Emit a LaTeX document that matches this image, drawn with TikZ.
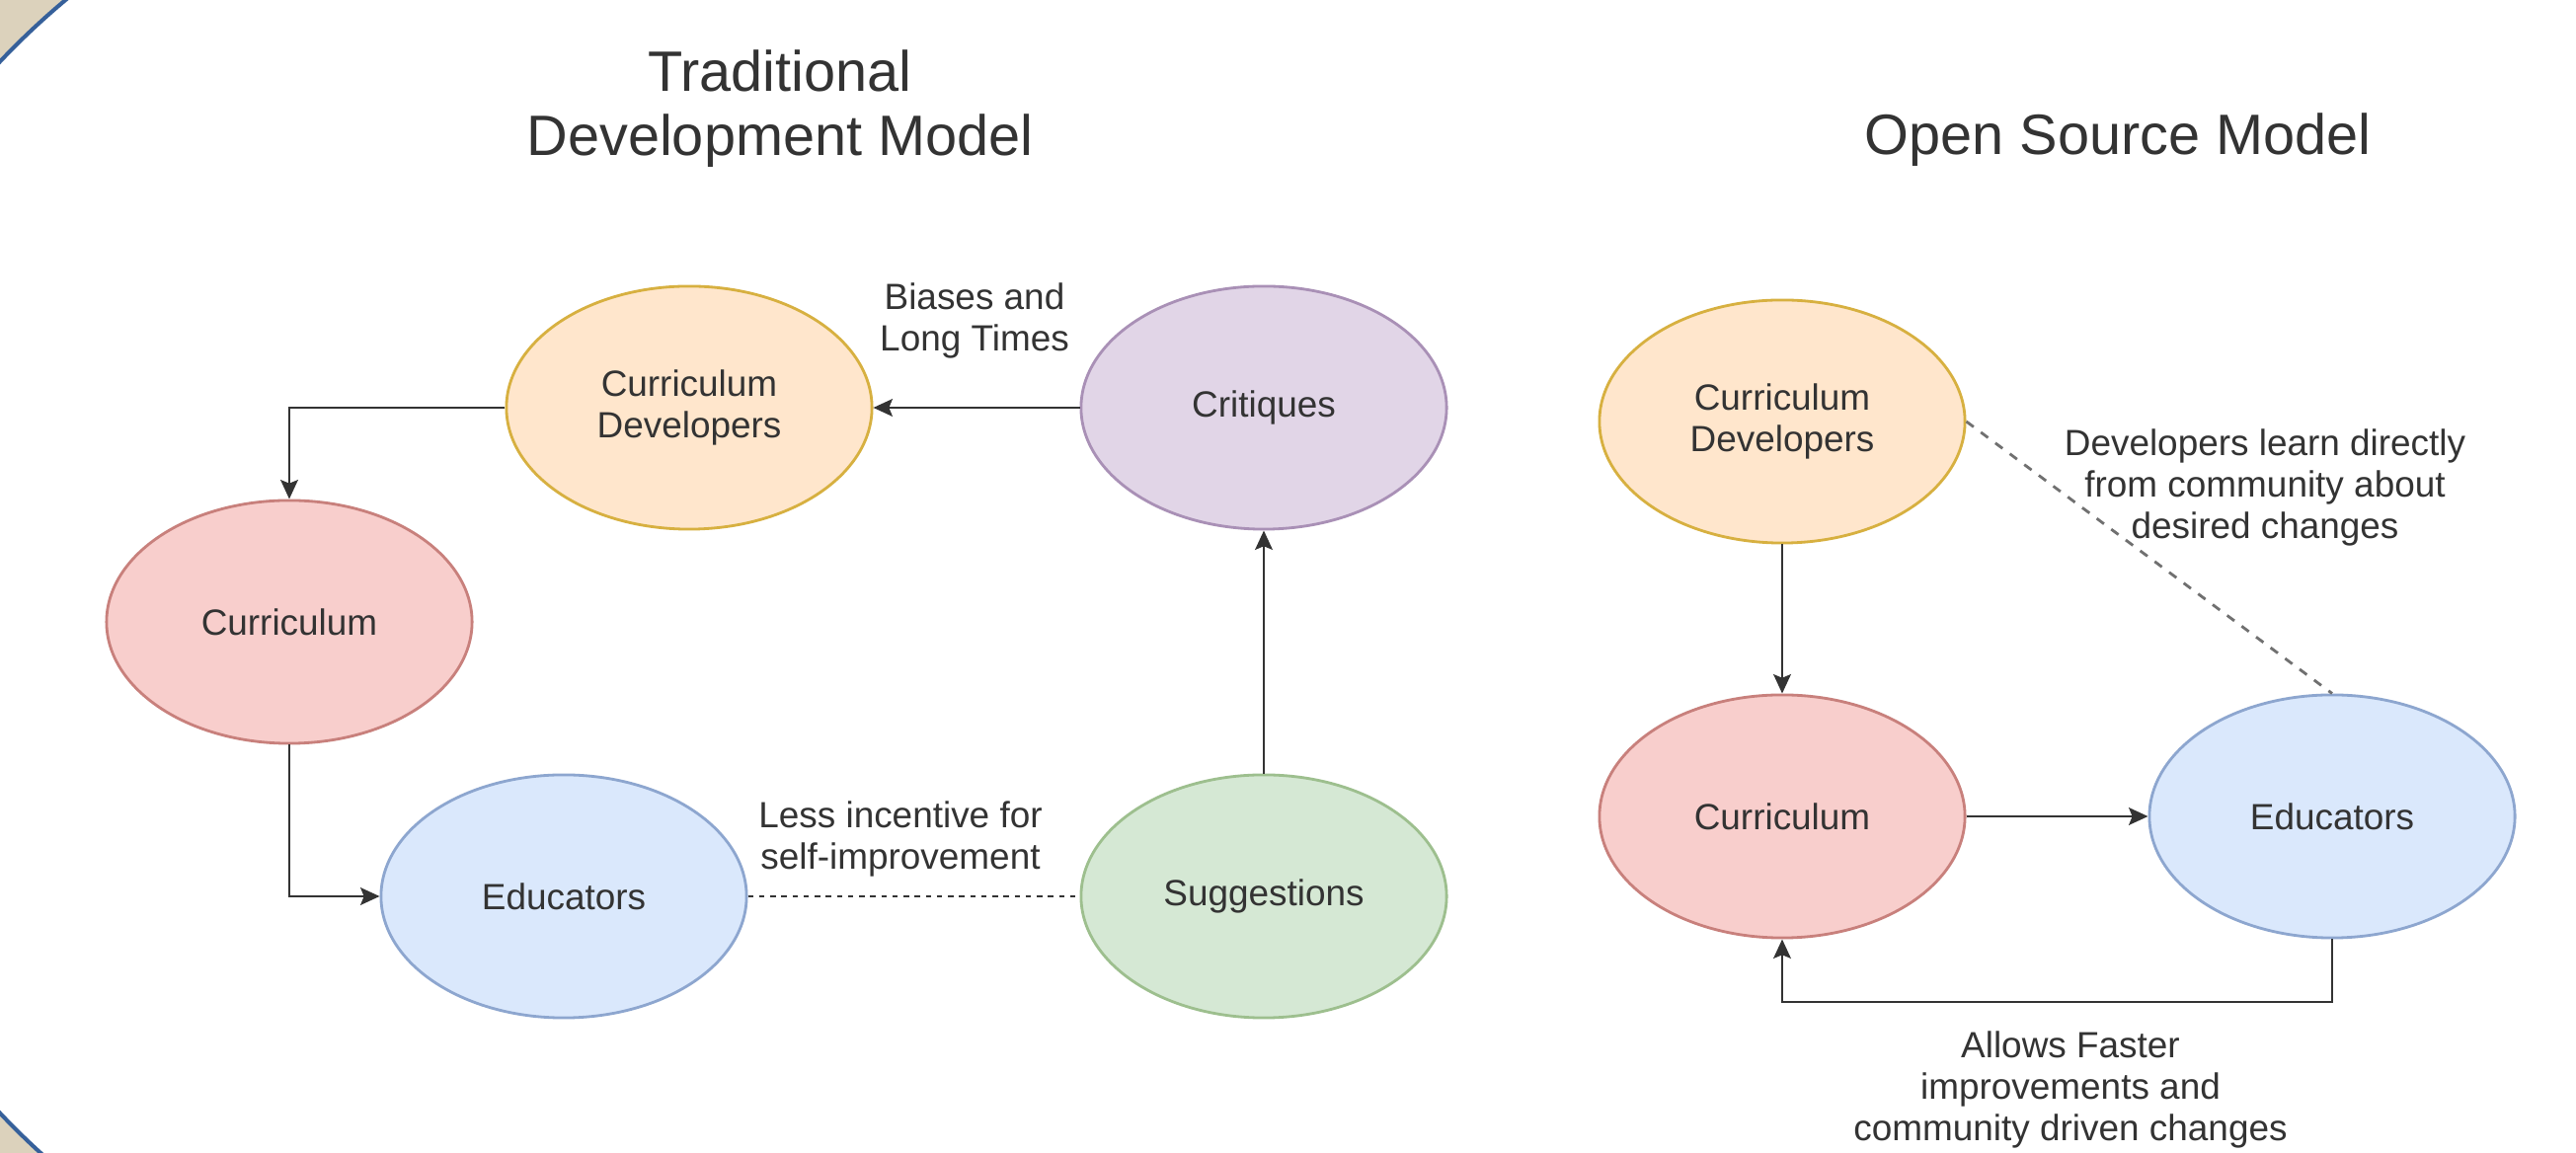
\documentclass[tikz,border=0pt]{standalone}
\usepackage{fontspec}
\setmainfont{Liberation Sans}
\usetikzlibrary{arrows.meta,shapes.geometric}

\definecolor{ink}{HTML}{333333}
\definecolor{paper}{HTML}{DCD2BC}
\definecolor{rim}{HTML}{36609A}
\definecolor{devfill}{HTML}{FFE6CC}\definecolor{devline}{HTML}{D7B040}
\definecolor{curfill}{HTML}{F8CECC}\definecolor{curline}{HTML}{C8807C}
\definecolor{edufill}{HTML}{DAE8FC}\definecolor{eduline}{HTML}{8DA6CF}
\definecolor{sugfill}{HTML}{D5E8D4}\definecolor{sugline}{HTML}{9DBF8E}
\definecolor{crifill}{HTML}{E1D5E7}\definecolor{criline}{HTML}{A990B6}

\begin{document}
\begin{tikzpicture}[x=0.01cm, y=-0.01cm,
  stage/.style={ellipse, draw, line width=0.8pt, minimum width=3.7cm, minimum height=2.46cm,
    inner sep=0pt, align=center, text=ink, font=\fontsize{10.5}{12}\selectfont},
  flow/.style={draw=ink, line width=0.8pt, -{Stealth[length=5.5pt, width=5pt, inset=1pt]}},
  note/.style={align=center, text=ink, inner sep=0pt, font=\fontsize{10.5}{12}\selectfont},
  heading/.style={align=center, text=ink, inner sep=0pt, font=\fontsize{16.4}{18.5}\selectfont}]
\useasboundingbox (0,0) rectangle (2609,1168);
\fill[white] (0,0) rectangle (2609,1168);
% Frame corners
\begin{scope}
  \clip (0,0) rectangle (150,1168);
  \fill[paper] (0,0) rectangle (150,1168);
  \fill[white] (563,595) circle[radius=775];
  \draw[rim, line width=1.15pt] (563,595) circle[radius=775];
\end{scope}
% Headings
\node[heading] (oldtitle) at (790,110) {Traditional\\Development Model};
\node[heading, anchor=base] (newtitle) at (2145,157) {Open Source Model};
% Traditional model
\node[stage, fill=devfill, draw=devline] (dev1) at (698,413) {Curriculum\\Developers};
\node[stage, fill=crifill, draw=criline] (crit) at (1280,413) {Critiques};
\node[stage, fill=curfill, draw=curline] (cur1) at (293,630) {Curriculum};
\node[stage, fill=edufill, draw=eduline] (edu1) at (571,908) {Educators};
\node[stage, fill=sugfill, draw=sugline] (sugg) at (1280,908) {Suggestions};
\draw[flow] (crit.west) -- (dev1.east);
\draw[flow] (dev1.west) -| (cur1.north);
\draw[flow] (cur1.south) |- (edu1.west);
\draw[flow] (sugg.north) -- (crit.south);
\draw[draw=ink, line width=0.8pt, dash pattern=on 1.6pt off 1.6pt] (edu1.east) -- (sugg.west);
\node[note] (bias) at (987,325) {Biases and\\Long Times};
\node[note] (lazy) at (912,850) {Less incentive for\\self-improvement};
% Open source model
\node[stage, fill=devfill, draw=devline] (dev2) at (1805,427) {Curriculum\\Developers};
\node[stage, fill=curfill, draw=curline] (cur2) at (1805,827) {Curriculum};
\node[stage, fill=edufill, draw=eduline] (edu2) at (2362,827) {Educators};
\coordinate (loop) at (2362,1015);
\draw[flow] (dev2.south) -- (cur2.north);
\draw[flow] (cur2.east) -- (edu2.west);
\draw[flow] (edu2.south) -- (loop) -| (cur2.south);
\draw[ink!70, line width=0.8pt, dash pattern=on 2.6pt off 2.6pt] (dev2.east) -- (edu2.north);
\node[note] (learn) at (2294,494) {Developers learn directly\\from community about\\desired changes};
\node[note] (fast) at (2097,1104) {Allows Faster\\improvements and\\community driven changes};
\end{tikzpicture}
\end{document}
